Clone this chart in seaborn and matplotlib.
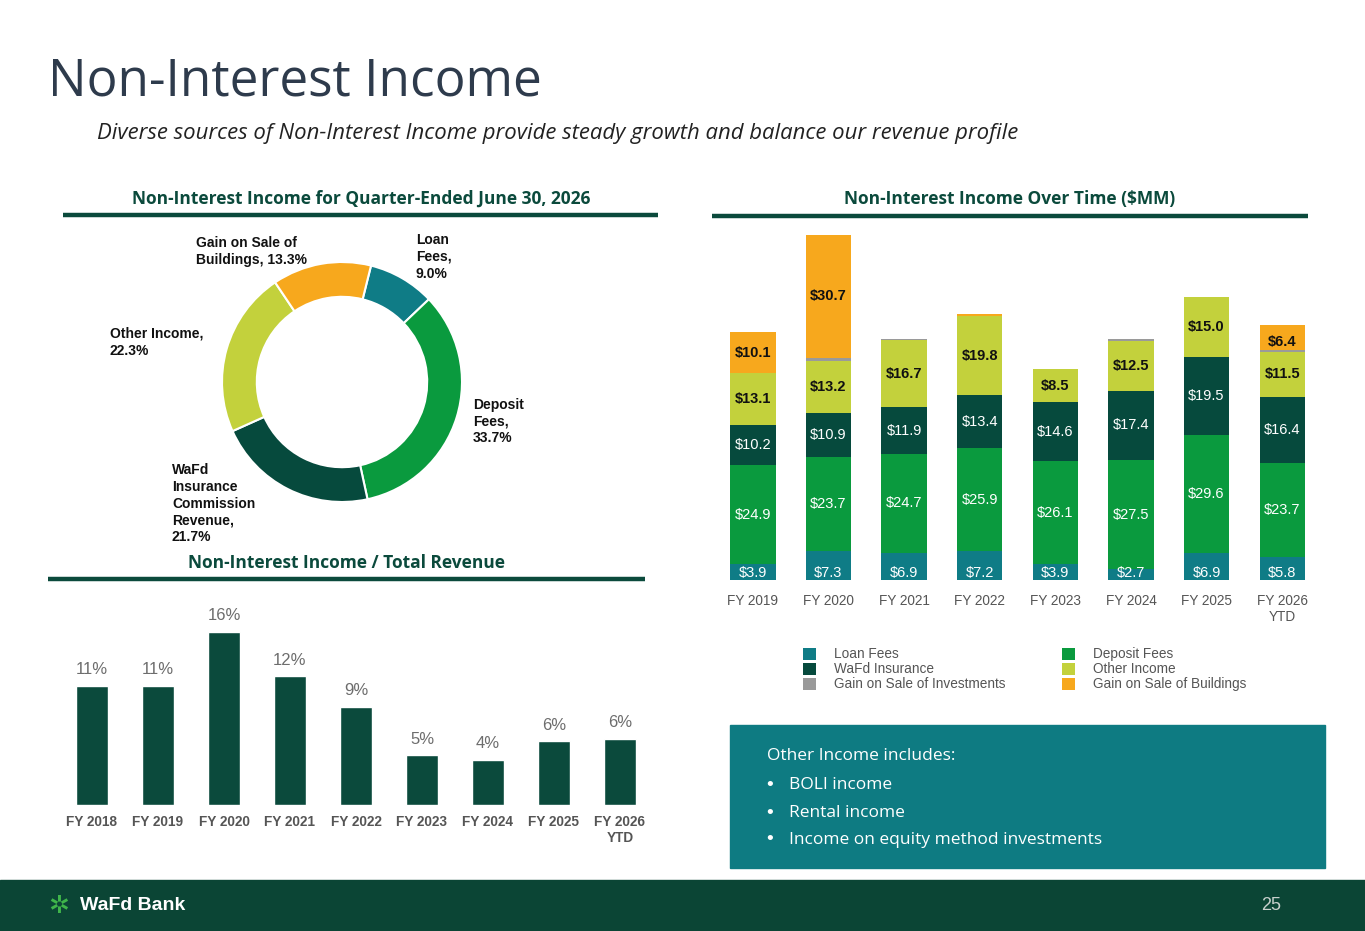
import matplotlib
matplotlib.use("Agg")
import matplotlib.pyplot as plt
import seaborn as sns
import numpy as np
import pandas as pd
from matplotlib.patches import Rectangle

sns.set_theme(style="white")
plt.rcParams['font.family'] = ['Liberation Sans', 'DejaVu Sans']

# ---- data ----
years = ["FY 2019", "FY 2020", "FY 2021", "FY 2022", "FY 2023", "FY 2024", "FY 2025", "FY 2026\nYTD"]
loan_fees = [3.9, 7.3, 6.9, 7.2, 3.9, 2.7, 6.9, 5.8]
deposit_fees = [24.9, 23.7, 24.7, 25.9, 26.1, 27.5, 29.6, 23.7]
wafd_ins = [10.2, 10.9, 11.9, 13.4, 14.6, 17.4, 19.5, 16.4]
other_income = [13.1, 13.2, 16.7, 19.8, 8.5, 12.5, 15.0, 11.5]
gain_invest = [0.0, 0.8, 0.3, 0.0, 0.0, 0.4, 0.0, 0.3]
gain_build = [10.1, 30.7, 0.0, 0.5, 0.0, 0.0, 0.0, 6.4]

ratio_years = ["FY 2018", "FY 2019", "FY 2020", "FY 2021", "FY 2022", "FY 2023", "FY 2024", "FY 2025", "FY 2026\nYTD"]
ratio_vals = [11.0, 11.0, 16.0, 11.9, 9.1, 4.6, 4.2, 5.9, 6.1]
ratio_labels = ["11%", "11%", "16%", "12%", "9%", "5%", "4%", "6%", "6%"]

donut_names = ["Loan Fees", "Deposit Fees", "WaFd Insurance Commission Revenue", "Other Income", "Gain on Sale of Buildings"]
donut_vals = [9.0, 33.7, 21.7, 22.3, 13.3]

C_LOAN = "#0f7c86"; C_DEP = "#0a9a3e"; C_INS = "#064a3d"; C_OTH = "#c3d13c"
C_INV = "#9a9a9a"; C_BLD = "#f7a81d"
DARK = "#0b4a3c"

W, H = 1365, 931
fig = plt.figure(figsize=(13.65, 9.31), dpi=100)
bg = fig.add_axes([0, 0, 1, 1]); bg.set_xlim(0, W); bg.set_ylim(H, 0); bg.axis("off")

def fx(px): return px / W
def fy(py): return 1 - py / H

# title
bg.text(48, 82, "Non-Interest Income", fontsize=37, color="#2e3b4c", va="center", family=["Open Sans", "DejaVu Sans"])
bg.text(97, 134, "Diverse sources of Non-Interest Income provide steady growth and balance our revenue profile",
        fontsize=15.9, style="italic", color="#222", va="center", family=["Open Sans", "DejaVu Sans"])

def header(txt, cx, cy, x0, x1, ly):
    bg.text(cx, cy, txt, fontsize=12.5, fontweight="bold", color=DARK, ha="center", va="center",
            family=["Open Sans", "DejaVu Sans"])
    bg.plot([x0, x1], [ly, ly], color=DARK, lw=3.2, solid_capstyle="butt")

header("Non-Interest Income for Quarter-Ended June 30, 2026", 361, 199, 63, 658, 215)
header("Non-Interest Income / Total Revenue", 347, 563, 48, 645, 579)
header("Non-Interest Income Over Time ($MM)", 1010, 199, 712, 1308, 216)

# donut
r = 120
dax = fig.add_axes([fx(342 - r), fy(382 + r), fx(2 * r), 2 * r / H])
dax.pie(donut_vals, colors=[C_LOAN, C_DEP, C_INS, C_OTH, C_BLD], startangle=76, counterclock=False,
        radius=1.0, wedgeprops=dict(width=0.29, edgecolor="white", linewidth=1.5))
dax.set_xlim(-1.0, 1.0); dax.set_ylim(-1.0, 1.0)
dl = dict(fontsize=10, fontweight="bold", color="#111", va="top", linespacing=1.25)
bg.text(416, 233, "Loan\nFees,\n9.0%", **dl)
bg.text(196, 236, "Gain on Sale of\nBuildings, 13.3%", **dl)
bg.text(110, 327, "Other Income,\n22.3%", **dl)
bg.text(473, 398, "Deposit\nFees,\n33.7%", **dl)
bg.text(172, 463, "WaFd\nInsurance\nCommission\nRevenue,\n21.7%", **dl)

# left ratio bar chart
lax = fig.add_axes([fx(59), fy(805), fx(594), 185 / H])
df_r = pd.DataFrame({"year": ratio_years, "val": ratio_vals})
sns.barplot(data=df_r, x="year", y="val", color=DARK, saturation=1, width=0.48, ax=lax)
for i, (v, lab) in enumerate(zip(ratio_vals, ratio_labels)):
    lax.text(i, v + 0.8, lab, ha="center", va="bottom", fontsize=12, color="#6d6d6d")
lax.set_xlim(-0.5, 8.5); lax.set_ylim(0, 17.1)
lax.set_xlabel(""); lax.set_ylabel(""); lax.set_yticks([])
lax.tick_params(axis="x", labelsize=9.8, colors="#555", length=0, pad=7)
for t in lax.get_xticklabels(): t.set_fontweight("bold")
for s in lax.spines.values(): s.set_visible(False)
lax.patch.set_alpha(0)

# right stacked chart
rax = fig.add_axes([fx(715), fy(580), fx(605), 350 / H])
series = [("Loan Fees", loan_fees, C_LOAN), ("Deposit Fees", deposit_fees, C_DEP),
          ("WaFd Insurance", wafd_ins, C_INS), ("Other Income", other_income, C_OTH),
          ("Gain on Sale of Investments", gain_invest, C_INV), ("Gain on Sale of Buildings", gain_build, C_BLD)]
x = np.arange(len(years))
bottom = np.zeros(len(years))
for name, vals, col in series:
    vals = np.array(vals)
    rax.bar(x, vals, bottom=bottom, width=0.6, color=col, edgecolor="none")
    for i, v in enumerate(vals):
        if name == "Gain on Sale of Investments" or v < 1:
            continue
        top = bottom[i] + v
        mid = bottom[i] + v / 2
        if name == "Loan Fees":
            y = 1.7
        else:
            y = min(mid, top - 4.3)
        bold = name in ("Other Income", "Gain on Sale of Buildings")
        rax.text(i, y, f"${v:.1f}", ha="center", va="center", fontsize=10.5,
                 color="#111" if bold else "white", fontweight="bold" if bold else "normal")
    bottom += vals
rax.set_xlim(-0.5, 7.5); rax.set_ylim(0, 350 / 3.98)
rax.set_xticks(x); rax.set_xticklabels(years)
rax.set_yticks([])
rax.tick_params(axis="x", labelsize=9.8, colors="#555", length=0, pad=10)
for s in rax.spines.values(): s.set_visible(False)
rax.patch.set_alpha(0)

# legend
leg = [(803, 654, C_LOAN, "Loan Fees"), (803, 669, C_INS, "WaFd Insurance"), (803, 684, C_INV, "Gain on Sale of Investments"),
       (1062, 654, C_DEP, "Deposit Fees"), (1062, 669, C_OTH, "Other Income"), (1062, 684, C_BLD, "Gain on Sale of Buildings")]
for px, py, col, lab in leg:
    bg.add_patch(Rectangle((px, py - 6), 13, 12, color=col, lw=0))
    bg.text(px + 31, py, lab, fontsize=9.8, color="#555", va="center")

# text box
bg.add_patch(Rectangle((730, 725), 595, 143, color="#0e7b82"))
bf = dict(fontsize=12.5, color="white", va="center", family=["Open Sans", "DejaVu Sans"])
bg.text(767, 756, "Other Income includes:", **bf)
for yy, t in [(785, "BOLI income"), (813, "Rental income"), (840, "Income on equity method investments")]:
    bg.text(766, yy, "\u2022", fontsize=14, color="white", va="center")
    bg.text(789, yy, t, **bf)

# footer
bg.add_patch(Rectangle((0, 880), W, 51, color="#0b4535"))
bg.text(48, 906, "✲", fontsize=18, color="#3fb54a", va="center", ha="left")
bg.text(80, 906, "WaFd Bank", fontsize=14, fontweight="bold", color="white", va="center")
bg.text(1281, 906, "25", fontsize=13, color="#c8d0cc", va="center", ha="right")

fig.savefig("out.png", dpi=100)
